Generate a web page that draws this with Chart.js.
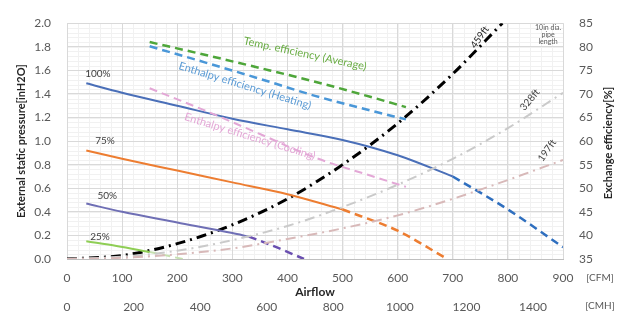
<!DOCTYPE html>
<html>
<head>
<meta charset="utf-8">
<script src="https://cdn.jsdelivr.net/npm/chart.js@4.4.0/dist/chart.umd.min.js"></script>
<style>
  html, body { margin: 0; padding: 0; background: #fff; }
</style>
</head>
<body>
<canvas id="fanChart" width="631" height="320"></canvas>
<script>
// fan curves: airflow [CFM] vs external static pressure [inH2O]
const cfm100 = [35, 100, 200, 300, 400, 500, 600, 700];
const p100 = [1.49, 1.41, 1.30, 1.19, 1.10, 1.01, 0.88, 0.70];
const cfm100Ext = [700, 800, 900];
const p100Ext = [0.70, 0.42, 0.10];

const cfm75 = [35, 100, 200, 300, 400, 500];
const p75 = [0.92, 0.85, 0.75, 0.65, 0.55, 0.42];
const cfm75Ext = [500, 600, 690];
const p75Ext = [0.42, 0.24, 0.0];

const cfm50 = [35, 100, 200, 300, 330];
const p50 = [0.47, 0.40, 0.31, 0.22, 0.19];
const cfm50Ext = [330, 380, 430];
const p50Ext = [0.19, 0.10, 0.0];

const cfm25 = [35, 90, 150];
const p25 = [0.15, 0.11, 0.06];
const cfm25Ext = [150, 210];
const p25Ext = [0.06, 0.0];

// duct resistance (10in dia. pipe)
const duct459Cfm = [0, 100, 200, 300, 400, 500, 600, 700, 790];
const duct459 = [0, 0.03, 0.13, 0.29, 0.51, 0.80, 1.15, 1.57, 2.0];
const ductCfm = [0, 100, 200, 300, 400, 500, 600, 700, 800, 900];
const duct328 = [0, 0.02, 0.07, 0.16, 0.28, 0.44, 0.63, 0.85, 1.11, 1.41];
const duct197 = [0, 0.01, 0.04, 0.09, 0.17, 0.26, 0.37, 0.51, 0.67, 0.84];

// exchange efficiency [%]
const effCfm = [150, 250, 350, 450, 550, 615];
const tempEff = [81.0, 78.3, 75.5, 72.6, 69.4, 67.2];
const heatEff = [80.1, 76.7, 73.2, 69.6, 66.5, 64.6];
const coolEff = [71.2, 66.5, 61.5, 56.5, 52.7, 50.3];

// axis ranges
const cfmMax = 900;
const cmhMax = 1490;
const pressureMax = 2.0;
const effMin = 35;
const effMax = 85;

const pts = (xs, ys) => xs.map((x, i) => ({x: x, y: ys[i]}));

const fontFamily = 'Lato, "Liberation Sans", sans-serif';
const tickFont = {family: fontFamily, size: 12};
const tickColor = '#595959';

function line(data, color, opts) {
    return Object.assign({
        data: data,
        borderColor: color,
        backgroundColor: color,
        borderWidth: 2,
        pointRadius: 0,
        showLine: true,
        fill: false,
        tension: 0.4,
        cubicInterpolationMode: 'monotone',
        yAxisID: 'y'
    }, opts || {});
}

const dash = [8, 5];
const dashDot = [10, 5, 2, 5];

// light minor grid + white background
const minorGrid = {
    id: 'minorGrid',
    beforeDraw(chart) {
        const ctx = chart.ctx;
        const a = chart.chartArea;
        const x = chart.scales.x, y = chart.scales.y;
        ctx.save();
        ctx.fillStyle = '#fff';
        ctx.fillRect(0, 0, chart.width, chart.height);
        ctx.strokeStyle = '#f1f1f1';
        ctx.lineWidth = 1;
        ctx.beginPath();
        for (let v = 0; v <= cfmMax; v += 20) {
            const px = Math.round(x.getPixelForValue(v)) + 0.5;
            ctx.moveTo(px, a.top); ctx.lineTo(px, a.bottom);
        }
        for (let v = 0; v <= pressureMax + 1e-9; v += 0.04) {
            const py = Math.round(y.getPixelForValue(v)) + 0.5;
            ctx.moveTo(a.left, py); ctx.lineTo(a.right, py);
        }
        ctx.stroke();
        ctx.restore();
    }
};

// text annotations placed in data units (x: CFM, y: inH2O)
const notes = [
    {text: '100%', x: 56, y: 1.57, color: '#404040', size: 10},
    {text: '75%', x: 69, y: 1.00, color: '#404040', size: 10},
    {text: '50%', x: 73, y: 0.54, color: '#404040', size: 10},
    {text: '25%', x: 60, y: 0.19, color: '#404040', size: 10},
    {text: 'Temp. efficiency (Average)', x: 432, y: 1.74, color: '#6aad45', size: 11, angle: 12},
    {text: 'Enthalpy efficiency (Heating)', x: 323, y: 1.47, color: '#5b9bd5', size: 11, angle: 17},
    {text: 'Enthalpy efficiency (Cooling)', x: 332, y: 1.04, color: '#e3a7d6', size: 11, angle: 17},
    {text: '459ft', x: 749, y: 1.88, color: '#262626', size: 10, angle: -55},
    {text: '328ft', x: 840, y: 1.35, color: '#404040', size: 10, angle: -50},
    {text: '197ft', x: 871, y: 0.92, color: '#404040', size: 10, angle: -55},
    {text: '10in dia.', x: 873, y: 1.96, color: '#595959', size: 7},
    {text: 'pipe', x: 873, y: 1.90, color: '#595959', size: 7},
    {text: 'length', x: 873, y: 1.84, color: '#595959', size: 7}
];

const annotations = {
    id: 'annotations',
    afterDatasetsDraw(chart) {
        const ctx = chart.ctx;
        const x = chart.scales.x, y = chart.scales.y;
        ctx.save();
        ctx.textAlign = 'center';
        ctx.textBaseline = 'middle';
        notes.forEach(n => {
            ctx.save();
            ctx.translate(x.getPixelForValue(n.x), y.getPixelForValue(n.y));
            ctx.rotate((n.angle || 0) * Math.PI / 180);
            ctx.font = n.size + 'px ' + fontFamily;
            ctx.fillStyle = n.color;
            ctx.fillText(n.text, 0, 0);
            ctx.restore();
        });
        // unit labels next to both airflow rows
        ctx.font = '10px ' + fontFamily;
        ctx.fillStyle = tickColor;
        const x2 = chart.scales.x2;
        ctx.fillText('[CFM]', x.right + 37, x.top + 19);
        ctx.fillText('[CMH]', x.right + 37, x2.top + 7);
        // right axis title, reads bottom to top
        const y2 = chart.scales.y2;
        ctx.translate(y2.right - 23, (y2.top + y2.bottom) / 2 + 2);
        ctx.rotate(-Math.PI / 2);
        ctx.font = 'bold 11px ' + fontFamily;
        ctx.fillStyle = '#262626';
        ctx.fillText('Exchange efficiency[%]', 0, 0);
        ctx.restore();
    }
};

const ctx = document.getElementById('fanChart').getContext('2d');
const chart = new Chart(ctx, {
    type: 'scatter',
    data: {
        datasets: [
            line(pts(ductCfm, duct197), '#d8b9b9', {borderDash: dashDot, tension: 0.3}),
            line(pts(ductCfm, duct328), '#cacaca', {borderDash: dashDot, tension: 0.3}),
            line(pts(effCfm, coolEff), '#e3a7d6', {borderDash: dash, yAxisID: 'y2'}),
            line(pts(effCfm, heatEff), '#4a97d8', {borderDash: dash, yAxisID: 'y2', borderWidth: 2.5}),
            line(pts(effCfm, tempEff), '#4ea63a', {borderDash: dash, yAxisID: 'y2', borderWidth: 2.5}),
            line(pts(cfm100, p100), '#4a6fb8'),
            line(pts(cfm100Ext, p100Ext), '#2f6fbf', {borderDash: dash, borderWidth: 2.5}),
            line(pts(cfm75, p75), '#ed7d31'),
            line(pts(cfm75Ext, p75Ext), '#ed7d31', {borderDash: dash, borderWidth: 2.5}),
            line(pts(cfm50, p50), '#6f6fb5'),
            line(pts(cfm50Ext, p50Ext), '#6a4fb0', {borderDash: dash, borderWidth: 2.5}),
            line(pts(cfm25, p25), '#8fce55'),
            line(pts(cfm25Ext, p25Ext), '#c6e0b0', {borderDash: dash}),
            line(pts(duct459Cfm, duct459), '#000000', {borderDash: dashDot, borderWidth: 3, tension: 0.3})
        ]
    },
    options: {
        responsive: false,
        animation: false,
        events: [],
        layout: {padding: {top: 12, left: 0, right: 0, bottom: 0}},
        plugins: {
            legend: {display: false},
            tooltip: {enabled: false}
        },
        scales: {
            x: {
                type: 'linear',
                position: 'bottom',
                weight: 0,
                min: 0,
                max: cfmMax,
                afterFit: s => { s.height = 40; },
                ticks: {stepSize: 100, font: tickFont, color: tickColor, padding: 12, maxRotation: 0},
                grid: {color: '#d9d9d9', drawTicks: false},
                border: {color: '#bfbfbf'},
                title: {
                    display: true,
                    text: 'Airflow',
                    color: '#262626',
                    font: {family: fontFamily, size: 12, weight: 'bold'},
                    padding: {top: 0, bottom: 0}
                }
            },
            x2: {
                type: 'linear',
                position: 'bottom',
                weight: 1,
                min: 0,
                max: cmhMax,
                afterFit: s => { s.height = 21; },
                ticks: {
                    stepSize: 200,
                    includeBounds: false,
                    font: tickFont,
                    color: tickColor,
                    padding: 1,
                    maxRotation: 0,
                    callback: v => String(v)
                },
                grid: {display: false, drawTicks: false},
                border: {display: false}
            },
            y: {
                position: 'left',
                min: 0,
                max: pressureMax,
                afterFit: s => { s.width = 67; },
                ticks: {stepSize: 0.2, font: tickFont, color: tickColor, padding: 16, callback: v => v.toFixed(1)},
                grid: {color: '#d9d9d9', drawTicks: false},
                border: {display: false},
                title: {
                    display: true,
                    text: 'External static pressure[inH2O]',
                    color: '#262626',
                    font: {family: fontFamily, size: 11, weight: 'bold'},
                    padding: {top: 15, bottom: 0}
                }
            },
            y2: {
                position: 'right',
                min: effMin,
                max: effMax,
                afterFit: s => { s.width = 68; },
                ticks: {stepSize: 5, font: tickFont, color: tickColor, padding: 16},
                grid: {display: false, drawTicks: false},
                border: {display: false}
            }
        }
    },
    plugins: [minorGrid, annotations]
});
</script>
</body>
</html>
